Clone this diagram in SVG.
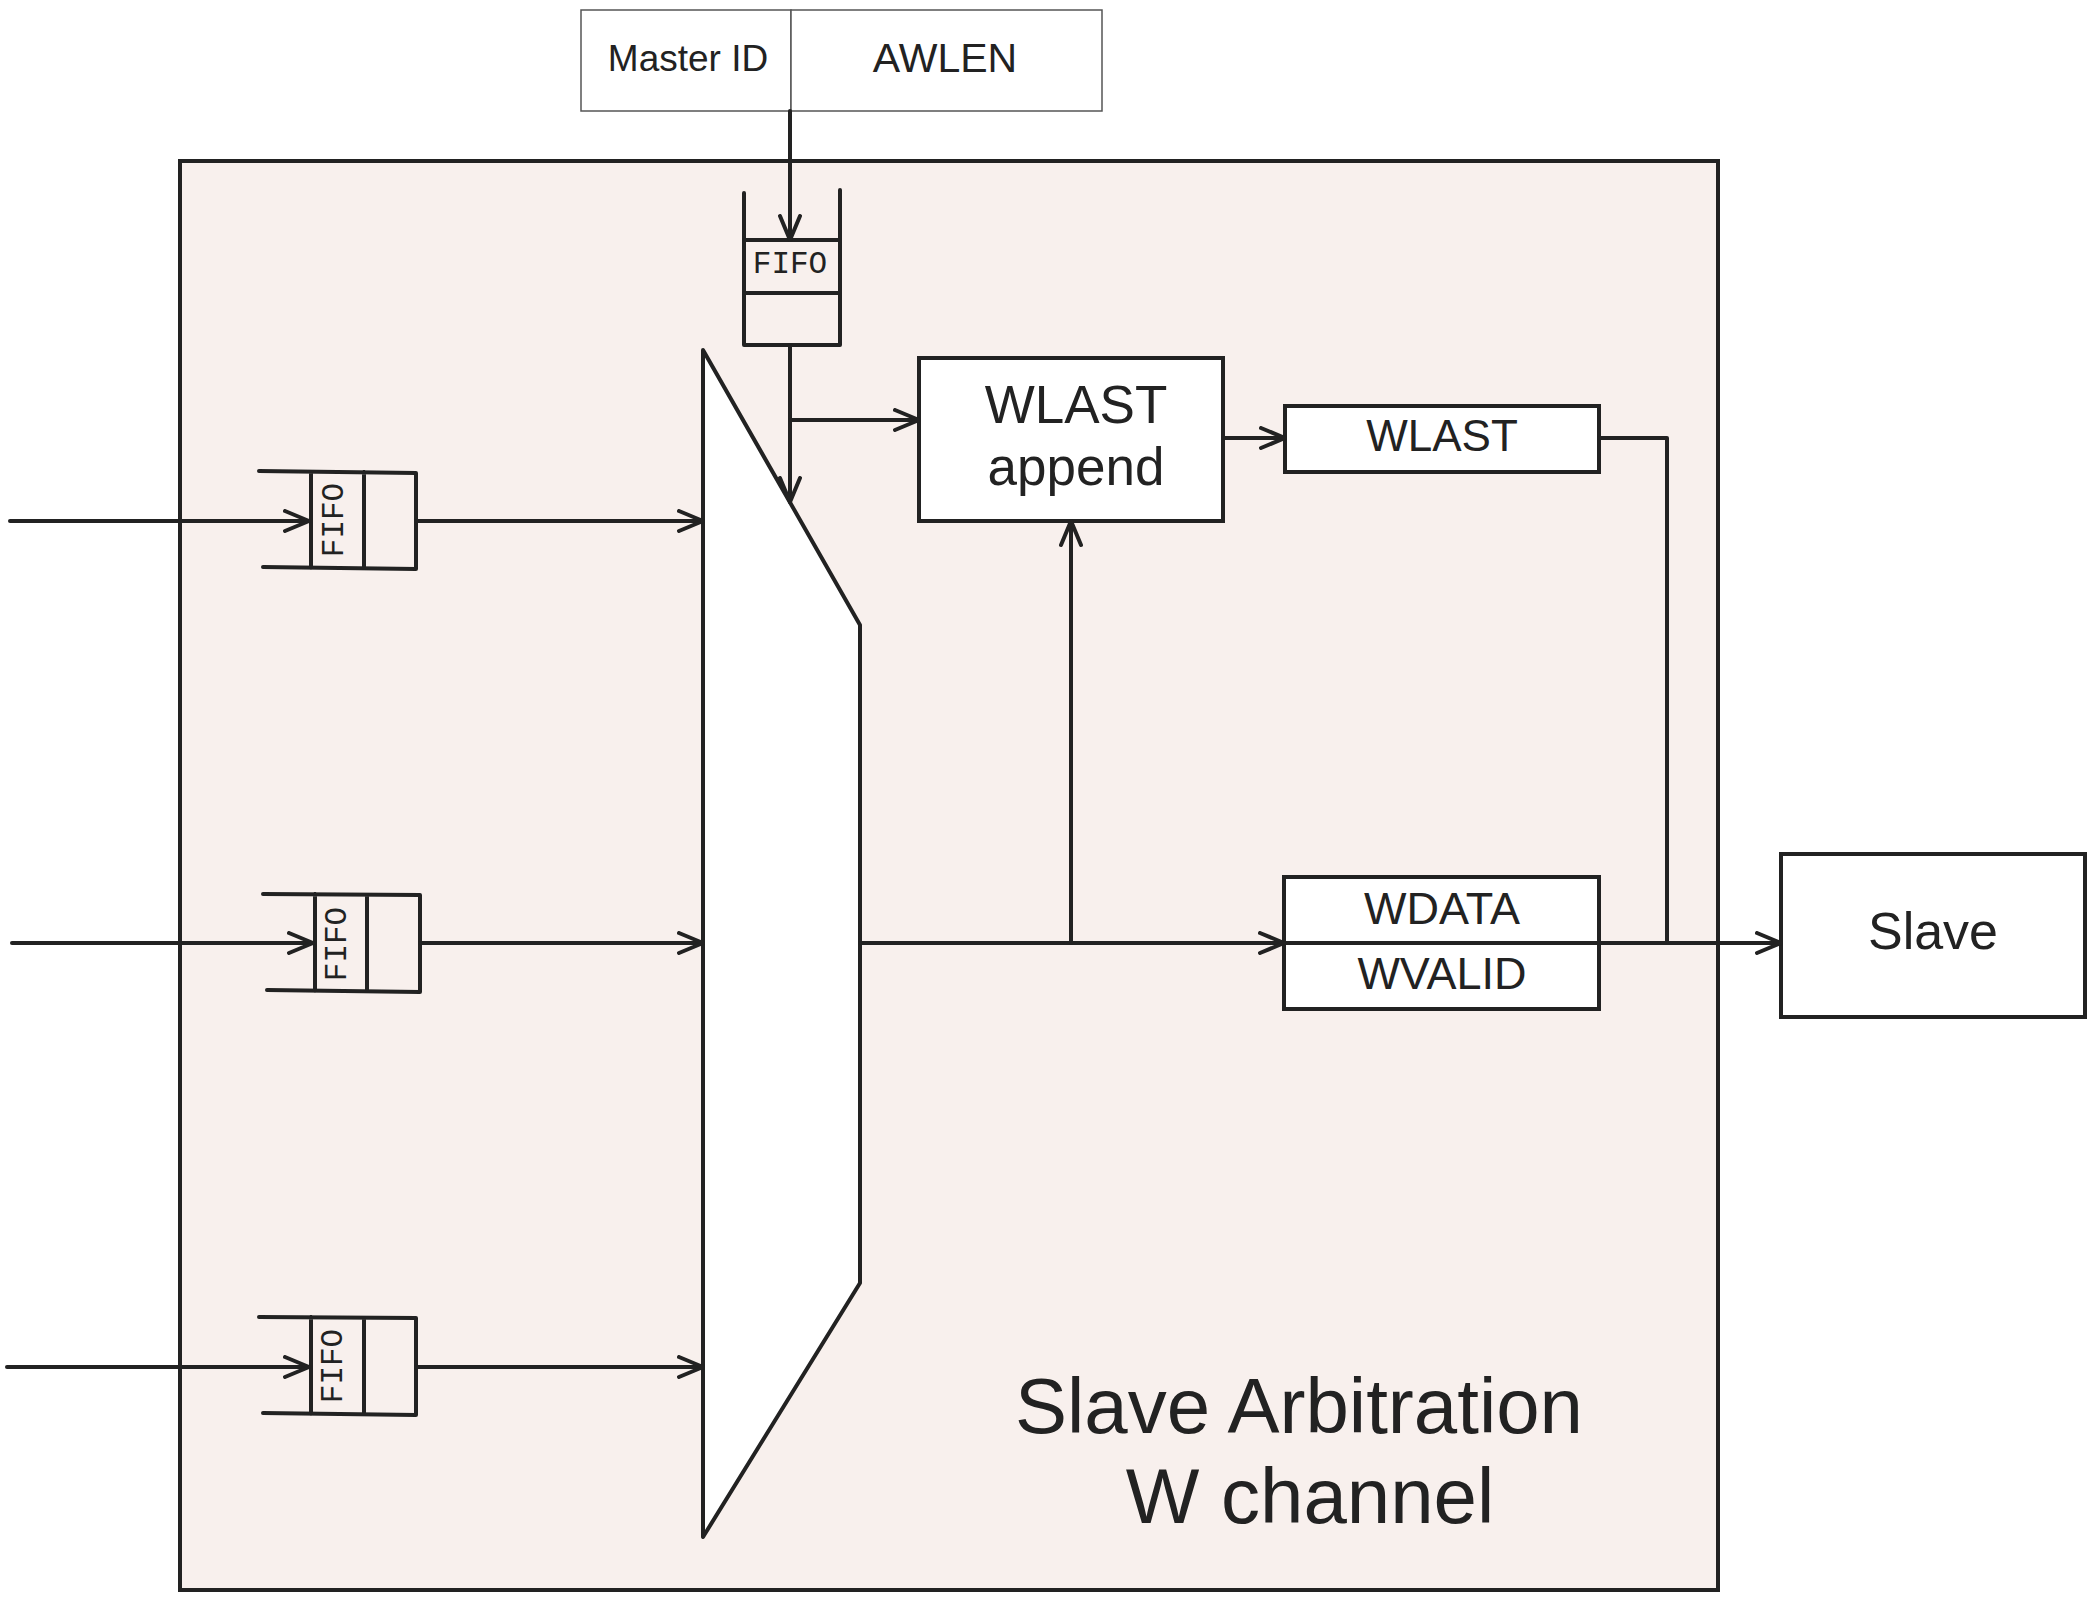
<svg xmlns="http://www.w3.org/2000/svg" width="2094" height="1600" viewBox="0 0 2094 1600">
<style>
.ln{fill:none;stroke:#222;stroke-width:4;stroke-linecap:round;stroke-linejoin:round}
.box{fill:#fff;stroke:#222;stroke-width:4}
.thin{fill:#fff;stroke:#555;stroke-width:1.5}
.t{font-family:"Liberation Sans",Arial,sans-serif;fill:#222;text-anchor:middle}
.ff{font-family:"Liberation Mono","DejaVu Sans Mono",monospace;fill:#222;text-anchor:middle;font-size:31px}
</style>
<defs>
<marker id="arr" markerUnits="userSpaceOnUse" viewBox="0 0 28 24" refX="26" refY="12" markerWidth="28" markerHeight="24" orient="auto">
<path d="M2,2 L26,12 L2,22" fill="none" stroke="#222" stroke-width="4" stroke-linecap="round" stroke-linejoin="round"/>
</marker>
</defs>
<rect width="2094" height="1600" fill="#fff"/>

<g id="arbiter">
<rect x="180" y="161" width="1538" height="1429" fill="#f8f0ed" stroke="#222" stroke-width="4"/>
<text class="t" x="1299" y="1433" font-size="78">Slave Arbitration</text>
<text class="t" x="1310" y="1523" font-size="78">W channel</text>
</g>

<g id="header">
<rect class="thin" x="581" y="10" width="210" height="101"/>
<rect class="thin" x="791" y="10" width="311" height="101"/>
<text class="t" x="688" y="71" font-size="37">Master ID</text>
<text class="t" x="945" y="72" font-size="41">AWLEN</text>
</g>

<g id="fifo-top">
<path class="ln" d="M744,193 L744,345 L840,345 L840,190 M744,240 L840,240 M744,293 L840,293"/>
<text class="ff" x="790" y="273">FIFO</text>
</g>

<g id="fifo-1">
<path class="ln" d="M259,471 L416,473 L416,569 L263,567 M311,472 L311,568 M364,472 L364,568"/>
<text class="ff" transform="translate(343,520) rotate(-90)">FIFO</text>
</g>
<g id="fifo-2">
<path class="ln" d="M263,894 L420,895 L420,992 L267,990 M315,894 L315,991 M367,895 L367,991"/>
<text class="ff" transform="translate(346,944) rotate(-90)">FIFO</text>
</g>
<g id="fifo-3">
<path class="ln" d="M259,1317 L416,1318 L416,1415 L263,1413 M311,1317 L311,1414 M364,1318 L364,1414"/>
<text class="ff" transform="translate(342,1366) rotate(-90)">FIFO</text>
</g>

<g id="mux">
<path d="M703,350 L860,625 L860,1283 L703,1537 Z" fill="#fff" stroke="#222" stroke-width="4" stroke-linejoin="round"/>
</g>

<g id="wlast-append">
<rect class="box" x="919" y="358" width="304" height="163"/>
<text class="t" x="1076" y="423" font-size="53">WLAST</text>
<text class="t" x="1076" y="485" font-size="53">append</text>
</g>

<g id="wlast">
<rect class="box" x="1285" y="406" width="314" height="66"/>
<text class="t" x="1442" y="451" font-size="44">WLAST</text>
</g>

<g id="wdata">
<rect class="box" x="1284" y="877" width="315" height="132"/>
<line x1="1284" y1="943" x2="1599" y2="943" stroke="#222" stroke-width="4"/>
<text class="t" x="1442" y="924" font-size="45">WDATA</text>
<text class="t" x="1442" y="989" font-size="45">WVALID</text>
</g>

<g id="slave">
<rect class="box" x="1781" y="854" width="304" height="163"/>
<text class="t" x="1933" y="949" font-size="52">Slave</text>
</g>

<g id="connectors">
<path class="ln" d="M790,111 L790,240" marker-end="url(#arr)"/>
<path class="ln" d="M790,345 L790,502" marker-end="url(#arr)"/>
<path class="ln" d="M790,420 L919,420" marker-end="url(#arr)"/>
<path class="ln" d="M10,521 L309,521" marker-end="url(#arr)"/>
<path class="ln" d="M12,943 L313,943" marker-end="url(#arr)"/>
<path class="ln" d="M7,1367 L309,1367" marker-end="url(#arr)"/>
<path class="ln" d="M416,521 L703,521" marker-end="url(#arr)"/>
<path class="ln" d="M420,943 L703,943" marker-end="url(#arr)"/>
<path class="ln" d="M416,1367 L703,1367" marker-end="url(#arr)"/>
<path class="ln" d="M860,943 L1284,943" marker-end="url(#arr)"/>
<path class="ln" d="M1071,943 L1071,521" marker-end="url(#arr)"/>
<path class="ln" d="M1223,438 L1285,438" marker-end="url(#arr)"/>
<path class="ln" d="M1599,438 L1667,438 L1667,943"/>
<path class="ln" d="M1599,943 L1781,943" marker-end="url(#arr)"/>
</g>
</svg>
